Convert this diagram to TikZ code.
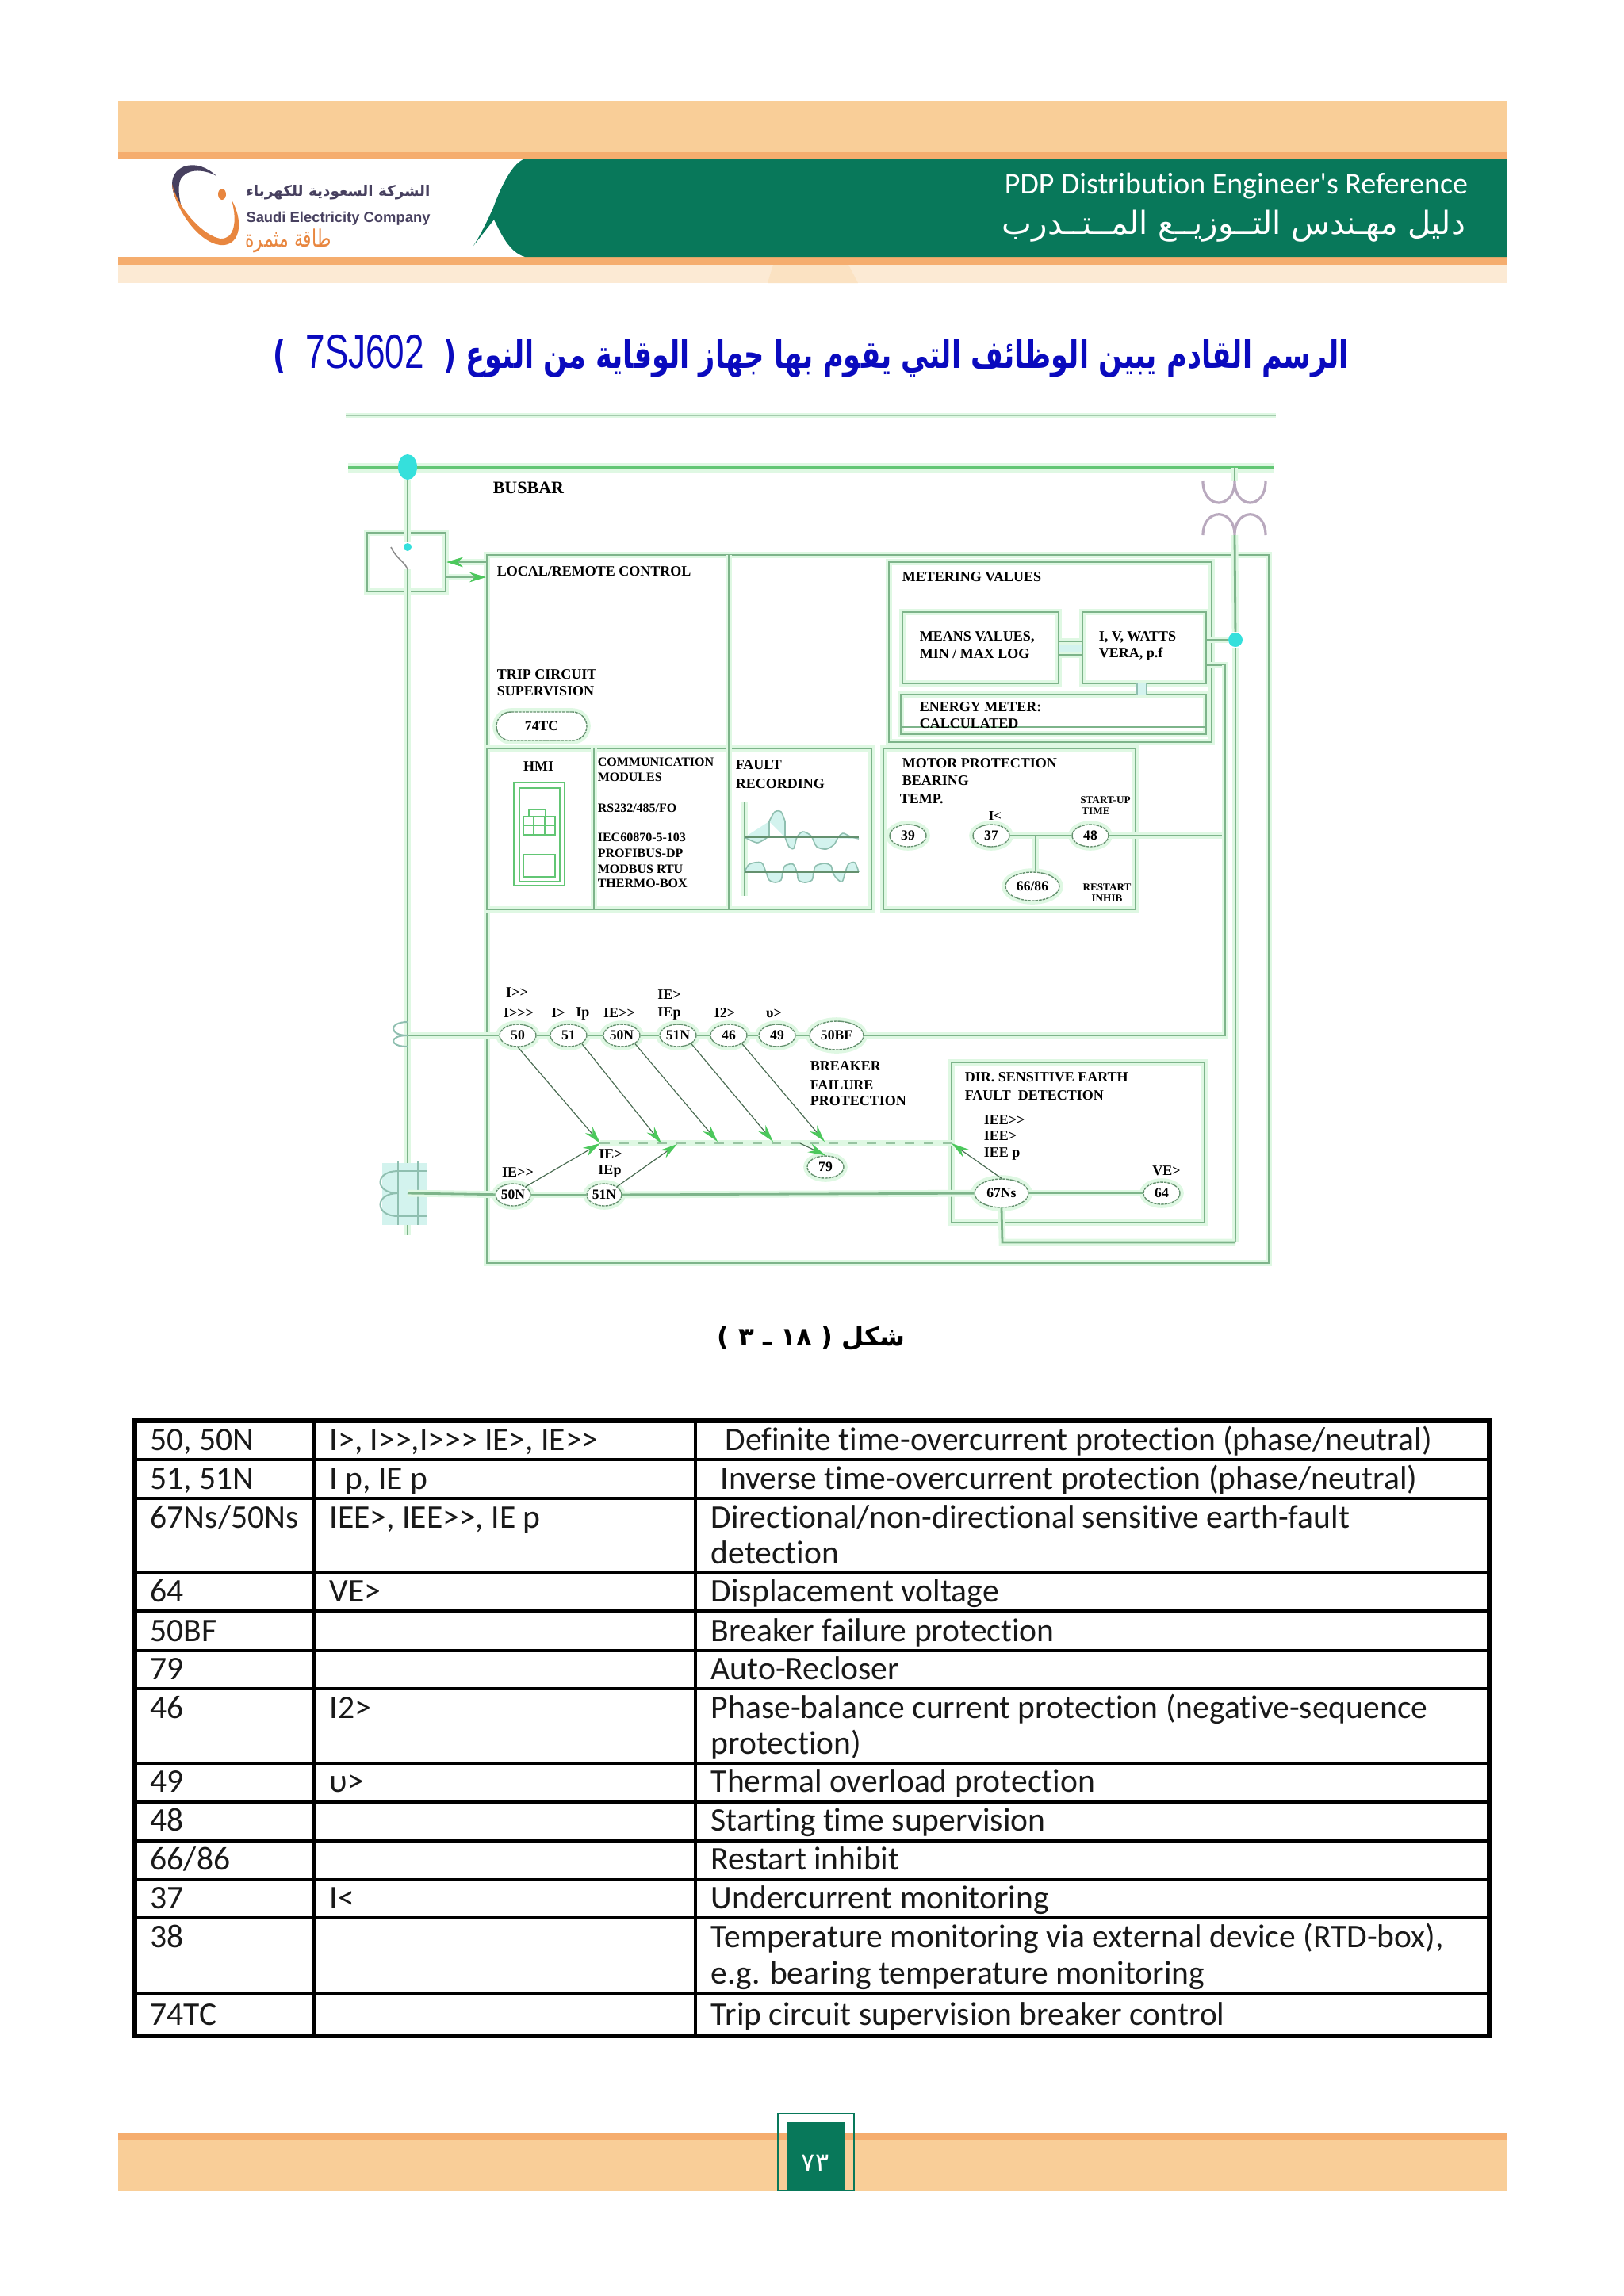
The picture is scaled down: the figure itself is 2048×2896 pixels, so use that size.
\documentclass[tikz,border=0pt]{standalone}
\usepackage{graphicx}
\usepackage{fontspec}
\usetikzlibrary{shapes.geometric,arrows.meta,fit}
\newfontfamily\carl{Carlito}[Ligatures=NoCommon]
\newfontfamily\arabicfont[Script=Arabic]{DejaVu Sans}
\newfontfamily\lserif{Liberation Serif}
\newfontfamily\lsans{Liberation Sans}
\TeXXeTstate=1
\definecolor{lorange}{HTML}{F9CE98}
\definecolor{dorange}{HTML}{F5AD6E}
\definecolor{porange}{HTML}{FCEAD4}
\definecolor{sporange}{HTML}{FBE2C2}
\definecolor{sec}{HTML}{08785A}
\definecolor{lnc}{HTML}{7DB48A}
\definecolor{busc}{HTML}{62C674}
\definecolor{halo}{HTML}{DFF8E3}
\definecolor{dotc}{HTML}{35E0DC}
\definecolor{tr}{HTML}{B9A9BE}
\definecolor{headc}{HTML}{4CC85C}
\definecolor{wavef}{HTML}{D3F3EE}
\definecolor{wavel}{HTML}{8FBFB0}
\definecolor{logod}{HTML}{47405F}
\definecolor{logoo}{HTML}{E8863F}
\definecolor{ttl}{HTML}{0A0ABE}
\newcommand\fsz[1]{\fontsize{#1}{#1}\selectfont}
\newcommand\fitw[2]{\resizebox{#1pt}{!}{#2}}
\newcommand\fitwh[3]{\resizebox*{#1pt}{#2pt}{#3}}
\tikzset{
 x=0.25pt,y=-0.25pt,
 ln/.style={draw=lnc,line width=0.7pt,preaction={draw=halo,line width=2.2pt}},
 bx/.style={ln,inner sep=0pt,fit={#1}},
 bus/.style={draw=busc,line width=1.1pt,preaction={draw=halo,line width=3pt}},
 relay/.style={ellipse,draw=lnc!80!black,dash pattern=on 0.9pt off 0.25pt,line width=0.35pt,fill=white,inner sep=0pt,
   preaction={draw=halo,solid,line width=2.4pt},minimum width=11.5pt,minimum height=7pt,
   font=\lserif\bfseries\fsz{4.4}},
 relayb/.style={relay,minimum width=17pt,minimum height=9pt},
 lab/.style={inner sep=0pt,anchor=west,font=\lserif\bfseries\fsz{4.5},text=black},
 labn/.style={lab,font=\lserif\bfseries\fsz{4}},
 labc/.style={lab,anchor=center},
 labs/.style={labc,font=\lserif\bfseries\fsz{3.3}},
 tc/.style={inner sep=0pt,anchor=base west,font=\carl\fsz{10.4},text=black!90},
 hd/.style={-{Stealth[length=5.5pt,width=3pt,color=headc]},draw=black!40!lnc,line width=0.3pt},
 gridl/.style={draw=black,line width=0.9pt},
 wave/.style={draw=wavel,line width=0.4pt,fill=wavef},
 hmi/.style={draw=busc,line width=0.5pt},
 trc/.style={draw=tr,line width=0.8pt},
}
\begin{document}
\begin{tikzpicture}
\useasboundingbox (0,0) rectangle (2048,2896);
% ---------- header
\fill[lorange] (149,127) rectangle (1900,192);
\fill[dorange] (149,192) rectangle (1900,200);
\fill[porange] (149,334) rectangle (1900,357);
\fill[sporange] (975,334) -- (1070,334) -- (1082,357) -- (968,357) -- cycle;
\fill[dorange] (149,324) rectangle (1900,334);
\fill[sec] (660,201) .. controls (645,208) and (632,235) .. (622,262) .. controls (614,280) and (605,298) .. (597,310) -- (623,277) .. controls (632,295) and (642,318) .. (662,324) -- (1900,324) -- (1900,201) -- cycle;
\fill[logod] (217,232) .. controls (217,208) and (248,198) .. (273,222) .. controls (255,212) and (233,213) .. (227,228) .. controls (224,238) and (226,252) .. (230,265) .. controls (220,250) and (217,240) .. (217,232) -- cycle;
\fill[logoo] (217,232) .. controls (220,265) and (255,312) .. (283,309) .. controls (302,307) and (308,280) .. (292,252) .. controls (300,280) and (295,302) .. (278,301) .. controls (258,298) and (225,265) .. (217,232) -- cycle;
\fill[logoo] (280,245) ellipse (5 and 7);
\node[inner sep=0pt,text=logod] (logoAr) at (426.5,243) {\fitw{58}{\arabicfont\bfseries\fsz{10}\beginR الشركة السعودية للكهرباء\endR}};
\node[inner sep=0pt,text=logod] (logoEn) at (426.5,276) {\fitw{58}{\lsans\bfseries\fsz{10}Saudi Electricity Company}};
\node[inner sep=0pt,text=logoo] (logoSl) at (363.5,304) {\fitwh{27}{7.5}{\arabicfont\fsz{10}\beginR طاقة مثمرة\endR}};
\node[inner sep=0pt,text=white] (hdrEn) at (1559,235) {\fitw{146}{\carl\fsz{12}PDP Distribution Engineer's Reference}};
\node[inner sep=0pt,text=white] (hdrAr) at (1556,285) {\fitw{146}{\arabicfont\fsz{12}\beginR دليل مهـندس التــوزيــع المــتــدرب\endR}};
% ---------- title
\node[inner sep=0pt,text=ttl] (title) at (1023,449) {\fitwh{339}{13.5}{\arabicfont\bfseries\fsz{12}\beginR الرسم القادم يبين الوظائف التي يقوم بها جهاز الوقاية من النوع ( \beginL{\lsans\mdseries\fsz{15} 7SJ602 }\endL{} )\endR}};
% ---------- diagram frame
\draw[draw=lnc!70,line width=0.7pt,preaction={draw=halo,line width=1.6pt}] (436,524) -- (1609,524);
\coordinate (busL) at (439,590); \coordinate (busR) at (1606,590);
\draw[bus] (busL) -- (busR);
\node[ln,fit={(614,700)(1600,1593)},inner sep=0pt] (main) {};
\node[bx={(463,672)(562,746)}] (sw) {};
\node[bx={(1121,709)(1528,936)}] (meter) {};
\node[bx={(1138,772)(1335,862)}] (means) {};
\node[bx={(1365,772)(1521,862)}] (lv) {};
\node[bx={(1136,876)(1521,926)}] (energy) {};
\node[bx={(1114,944)(1432,1147)}] (motor) {};
\node[bx={(614,944)(1099,1147)}] (lower) {};
\node[bx={(1200,1340)(1519,1542)}] (dir) {};
\draw[ln] (919,700) coordinate (d1) -- (919,1147) coordinate (d2);
\draw[ln] (749,944) coordinate (d3) -- (749,1147) coordinate (d4);
\draw[draw=lnc,line width=0.5pt] (1136,917) coordinate (e1) -- (1521,917) coordinate (e2);
% busbar tap, switch
\node[ellipse,fill=dotc,inner sep=0pt,minimum width=6pt,minimum height=8pt] (dotA) at (514,589) {};
\node[circle,fill=dotc,inner sep=0pt,minimum size=2.5pt] (dotS) at (514,690) {};
\coordinate (vEnd) at (514,1558);
\draw[ln] (dotA) -- (dotS);
\draw[ln] (514,718) coordinate (v1) -- (vEnd);
\draw[draw=black!45,line width=0.4pt] (493,690) coordinate (b1) .. controls (500,705) and (510,708) .. (v1);
\draw[ln,-{Stealth[length=5pt,width=3pt,color=headc]}] (main.west |- 0,709) -- (sw.east |- 0,709);
\draw[ln,-{Stealth[length=5pt,width=3pt,color=headc]}] (sw.east |- 0,728) -- (main.west |- 0,728);
% transformer
\coordinate (trT) at (1557,607); \coordinate (trB) at (1557,675);
\draw[ln] (busR -| trT) -- (trT);
\draw[trc] (1517,607) .. controls (1517,643) and (1557,643) .. (trT) .. controls (1557,643) and (1596,643) .. (1596,607);
\draw[trc] (1517,675) .. controls (1517,640) and (1557,640) .. (trB) .. controls (1557,640) and (1596,640) .. (1596,675);
\node[circle,fill=dotc,inner sep=0pt,minimum size=4.5pt] (dotB) at (1558,807) {};
\coordinate (rc1) at (1264,1567); \coordinate (rc2) at (1558,1567);
\draw[ln] (trB) -- (dotB); \draw[ln] (dotB) -- (rc2);
\draw[ln] (lv.east |- dotB) -- (dotB);
\coordinate (rtA) at (1545,839); \coordinate (rtB) at (1545,1305);
\draw[ln] (lv.east |- rtA) -- (rtA) -- (rtB);
% metering links
\fill[wavef] (1335,809) rectangle (1365,826);
\draw[ln] (means.east |- 0,809) -- (lv.west |- 0,809);
\draw[ln] (means.east |- 0,826) -- (lv.west |- 0,826);
\fill[wavef] (1434,862) rectangle (1446,876);
\draw[draw=wavel,line width=0.4pt] (1434,862) coordinate (k1) -- (1434,876) coordinate (k2);
\draw[draw=wavel,line width=0.4pt] (1446,862) coordinate (k3) -- (1446,876) coordinate (k4);
% text in boxes
\node[lab,font=\lserif\bfseries\fsz{5.5}] (busbar) at (621,615) {BUSBAR};
\node[lab] (t1) at (626,721) {LOCAL/REMOTE CONTROL};
\node[lab] (t2) at (626,851) {TRIP CIRCUIT};
\node[lab] (t3) at (626,872) {SUPERVISION};
\node[relay,rectangle,rounded corners=4.5pt,minimum width=28.5pt,minimum height=9pt] (tc74) at (683,916) {74TC};
\node[labc] (thmi) at (679,967) {HMI};
\node[labn] (c1) at (753,961) {COMMUNICATION};
\node[labn] (c2) at (753,980) {MODULES};
\node[labn] (c3) at (753,1019) {RS232/485/FO};
\node[labn] (c4) at (753,1056) {IEC60870-5-103};
\node[labn] (c5) at (753,1076) {PROFIBUS-DP};
\node[labn] (c6) at (753,1096) {MODBUS RTU};
\node[labn] (c7) at (753,1114) {THERMO-BOX};
\node[lab] (f1) at (927,965) {FAULT};
\node[lab] (f2) at (927,989) {RECORDING};
\node[lab] (m1) at (1137,728) {METERING VALUES};
\node[lab] (m2) at (1159,804) {MEANS VALUES,};
\node[lab] (m3) at (1159,825) {MIN / MAX LOG};
\node[lab] (m4) at (1385,804) {I, V, WATTS};
\node[lab] (m5) at (1385,825) {VERA, p.f};
\node[lab] (m6) at (1159,892) {ENERGY METER:};
\node[lab] (m7) at (1159,913) {CALCULATED};
\node[lab] (p1) at (1137,963) {MOTOR PROTECTION};
\node[lab] (p2) at (1137,985) {BEARING};
\node[lab] (p3) at (1134,1008) {TEMP.};
% HMI device
\draw[hmi] (648,987) rectangle (712,1117);
\draw[hmi] (655,994) rectangle (706,1112);
\draw[hmi] (660,1030) rectangle (700,1053);
\draw[hmi] (667,1021) rectangle (688,1030);
\draw[hmi] (660,1078) rectangle (700,1106);
\draw[hmi] (660,1041) -- (700,1041) (673,1030) -- (673,1053) (687,1030) -- (687,1053);
% waveforms
\draw[ln] (939,1012) coordinate (w1) -- (939,1130) coordinate (w2);
\draw[wave] plot[smooth,tension=.45] coordinates {(939,1056)(955,1063)(968,1056)} -- (970,1056) -- (970,1036) plot[smooth,tension=.5] coordinates {(970,1036)(977,1024)(985,1024)(990,1036)} -- (990,1056) plot[smooth,tension=.5] coordinates {(990,1056)(995,1068)(1001,1070)(1005,1056)(1012,1049)(1020,1052)(1024,1056)(1030,1068)(1042,1071)(1052,1065)(1057,1056)(1063,1051)(1070,1054)(1075,1056)(1083,1058)};
\draw[wave] plot[smooth,tension=.5] coordinates {(939,1100)(945,1090)(960,1088)(966,1100)(970,1110)(978,1113)(985,1110)(987,1100)(990,1092)(1000,1090)(1005,1100)(1007,1110)(1015,1113)(1024,1110)(1026,1100)(1029,1092)(1040,1089)(1048,1092)(1050,1100)(1055,1108)(1062,1112)(1066,1100)(1070,1090)(1078,1088)(1083,1100)};
\draw[draw=lnc!80!black,line width=0.5pt] (939,1056) -- (1083,1056) (939,1100) -- (1083,1100);
% motor protection relays
\node[relay] (r39) at (1145,1054) {39};
\node[relay] (r37) at (1250,1054) {37};
\node[relay] (r48) at (1375,1054) {48};
\node[relayb] (r66) at (1302,1118) {66/86};
\coordinate (jm) at (1306,1054);
\draw[ln] (r37) -- (r48);
\draw[ln] (jm) -- (r66.north -| jm);
\draw[ln] (r48) -- (r48 -| rtA);
\node[labs,font=\lserif\bfseries\fsz{4.2}] (l37) at (1255,1029) {I<};
\node[labs] (l48a) at (1394,1009) {START-UP};
\node[labs] (l48b) at (1382,1023) {TIME};
\node[labs] (l66a) at (1396,1119) {RESTART};
\node[labs] (l66b) at (1396,1133) {INHIB};
% CTs
\coordinate (tapU) at (514,1306);
\coordinate (tapL) at (514,1505);
\draw[draw=wavel,line width=0.5pt] (514,1289) coordinate (cu1) .. controls (490,1289) and (490,1306) .. (tapU) .. controls (490,1306) and (490,1320) .. (514,1320) coordinate (cu2);
\fill[wavef] (482,1467) rectangle (539,1545);
\draw[draw=wavel,line width=0.5pt] (502,1477) coordinate (cl1) .. controls (472,1477) and (472,1505) .. (502,1505) coordinate (cl2) .. controls (472,1505) and (472,1534) .. (502,1534) coordinate (cl3);
\draw[draw=wavel,line width=0.6pt] (502,1465) coordinate (cl4) -- (502,1545) coordinate (cl5) (527,1465) coordinate (cl6) -- (527,1545) coordinate (cl7) (cl1) -- (539,1477) coordinate (cl8) (cl3) -- (539,1534) coordinate (cl9);
% phase row
\node[relay] (r50) at (653,1306) {50};
\node[relay] (r51) at (717,1306) {51};
\node[relay] (r50n) at (784,1306) {50N};
\node[relay] (r51n) at (855,1306) {51N};
\node[relay] (r46) at (919,1306) {46};
\node[relay] (r49) at (980,1306) {49};
\node[relayb] (r50bf) at (1055,1306) {50BF};
\node[relay] (r79) at (1041,1472) {79};
\node[relay,minimum width=11pt] (n50) at (647,1507) {50N};
\node[relay,minimum width=11pt] (n51) at (762,1507) {51N};
\node[relayb] (n67) at (1263,1505) {67Ns};
\node[relay] (n64) at (1465,1505) {64};
\draw[ln] (tapU) -- (r50);
\foreach \a/\b in {r50/r51,r51/r50n,r50n/r51n,r51n/r46,r46/r49,r49/r50bf}{\draw[ln] (\a) -- (\b);}
\draw[ln] (r50bf) -- (r50bf -| rtB) -- (rtA);
\draw[ln] (tapL) -- (n50); \draw[ln] (n50) -- (n51); \draw[ln] (n51) -- (n67); \draw[ln] (n67) -- (n64);
\draw[ln] (n67.south) -- (rc1) -- (rc2);
% logic rail and arrows
\coordinate (j1) at (757,1442); \coordinate (j2) at (834,1442); \coordinate (j3) at (905,1440);
\coordinate (j4) at (975,1440); \coordinate (j5) at (1040,1440); \coordinate (j6) at (1009,1442);
\coordinate (j7) at (854,1443); \coordinate (jd) at (1200,1442);
\draw[draw=lnc!80,line width=0.7pt,dashed,preaction={draw=halo,solid,line width=1.8pt}] (j1) -- (jd);
\draw[hd] (r50.south) -- (j1);
\draw[hd] (r51.south east) -- (j2);
\draw[hd] (r50n.south east) -- (j3);
\draw[hd] (r51n.south east) -- (j4);
\draw[hd] (r46.south east) -- (j5);
\draw[hd] (n50.north east) -- (j1);
\draw[hd] (n51.north east) -- (j7);
\draw[hd] (j6) -- (r79.north);
\draw[hd] (n67.north) -- (jd);
% protection labels
\node[labc] (a1) at (652,1252) {I>>};
\node[labc] (a2) at (654,1278) {I>>>};
\node[labc] (a3) at (704,1278) {I>};
\node[labc] (a4) at (735,1278) {Ip};
\node[labc] (a5) at (781,1278) {IE>>};
\node[labc] (a6) at (844,1255) {IE>};
\node[labc] (a7) at (844,1278) {IEp};
\node[labc] (a8) at (914,1278) {I2>};
\node[labc] (a9) at (976,1278) {υ>};
\node[lab] (bf1) at (1021,1345) {BREAKER};
\node[lab] (bf2) at (1021,1369) {FAILURE};
\node[lab] (bf3) at (1021,1389) {PROTECTION};
\node[labc] (a10) at (653,1479) {IE>>};
\node[labc] (a11) at (770,1456) {IE>};
\node[labc] (a12) at (769,1477) {IEp};
\node[lab] (d5) at (1216,1359) {DIR. SENSITIVE EARTH};
\node[lab] (d6) at (1216,1382) {FAULT~ DETECTION};
\node[lab] (d7) at (1240,1413) {IEE>>};
\node[lab] (d8) at (1240,1433) {IEE>};
\node[lab] (d9) at (1240,1455) {IEE p};
\node[labc] (d10) at (1471,1477) {VE>};
% caption
\node[inner sep=0pt,text=black] (caption) at (1023,1688) {\arabicfont\bfseries\fsz{8.1}\beginR شكل ( \beginL ١٨\endL{} ـ ٣ )\endR};
% ---------- table
\node[draw=black,line width=1.5pt,inner sep=0pt,fit={(170,1792)(1878,2568)}] (tbl) {};
\draw[gridl,line width=1.1pt] (396,1792) coordinate (g1) -- (396,2568) coordinate (g2);
\draw[gridl,line width=1.1pt] (877,1792) coordinate (g3) -- (877,2568) coordinate (g4);
\foreach \yy in {1841,1890,1983,2032,2082,2130,2224,2273,2322,2371,2419,2514}{\draw[gridl] (tbl.west |- 0,\yy) -- (tbl.east |- 0,\yy);}
\node[tc] (a01) at (189,1829) {50, 50N};
\node[tc] (b01) at (415,1829) {I>, I>>,I>>> IE>, IE>>};
\node[tc] (c01) at (914,1829) {Definite time-overcurrent protection (phase/neutral)};
\node[tc] (a02) at (189,1878) {51, 51N};
\node[tc] (b02) at (415,1878) {I p, IE p};
\node[tc] (c02) at (908,1878) {Inverse time-overcurrent protection (phase/neutral)};
\node[tc] (a03) at (189,1927) {67Ns/50Ns};
\node[tc] (b03) at (415,1927) {IEE>, IEE>>, IE p};
\node[tc] (c03) at (896,1927) {Directional/non-directional sensitive earth-fault};
\node[tc] (c03b) at (896,1972) {detection};
\node[tc] (a04) at (189,2020) {64};
\node[tc] (b04) at (415,2020) {VE>};
\node[tc] (c04) at (896,2020) {Displacement voltage};
\node[tc] (a05) at (189,2070) {50BF};
\node[tc] (c05) at (896,2070) {Breaker failure protection};
\node[tc] (a06) at (189,2118) {79};
\node[tc] (c06) at (896,2118) {Auto-Recloser};
\node[tc] (a07) at (189,2167) {46};
\node[tc] (b07) at (415,2167) {I2>};
\node[tc] (c07) at (896,2167) {Phase-balance current protection (negative-sequence};
\node[tc] (c07b) at (896,2212) {protection)};
\node[tc] (a08) at (189,2260) {49};
\node[tc] (b08) at (415,2260) {υ>};
\node[tc] (c08) at (896,2260) {Thermal overload protection};
\node[tc] (a09) at (189,2309) {48};
\node[tc] (c09) at (896,2309) {Starting time supervision};
\node[tc] (a10t) at (189,2358) {66/86};
\node[tc] (c10) at (896,2358) {Restart inhibit};
\node[tc] (a11t) at (189,2407) {37};
\node[tc] (b11) at (415,2407) {I<};
\node[tc] (c11) at (896,2407) {Undercurrent monitoring};
\node[tc] (a12t) at (189,2456) {38};
\node[tc] (c12) at (896,2456) {Temperature monitoring via external device (RTD-box),};
\node[tc] (c12b) at (896,2502) {e.g. bearing temperature monitoring};
\node[tc] (a13) at (189,2554) {74TC};
\node[tc] (c13) at (896,2554) {Trip circuit supervision breaker control};
% ---------- footer
\fill[lorange] (149,2699) rectangle (1900,2763);
\fill[dorange] (149,2690) rectangle (1900,2699);
\fill[sec] (993,2676) rectangle (1066,2763);
\node[draw=sec,line width=0.7pt,inner sep=0pt,fit={(981,2666)(1077,2763)}] (pgbox) {};
\node[inner sep=0pt,text=white] (pgno) at (1028,2728) {\arabicfont\fsz{8}٧٣};
\end{tikzpicture}
\end{document}
